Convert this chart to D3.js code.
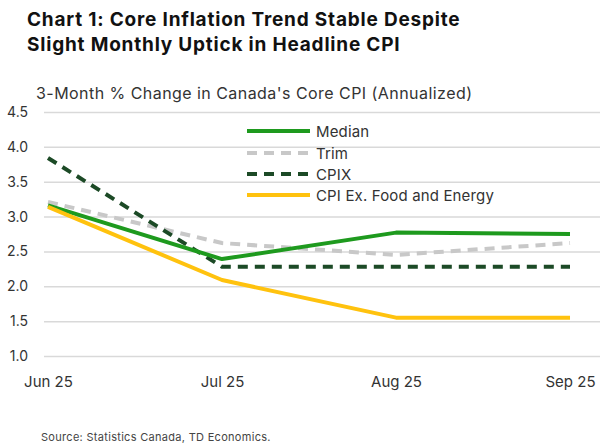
<!DOCTYPE html>
<html><head><meta charset="utf-8">
<script src="https://cdn.jsdelivr.net/npm/d3@7"></script>
<style>body{margin:0;background:#fff}svg{display:block}text{font-family:Inter,"Open Sans",sans-serif}</style>
</head><body><svg id="c" width="600" height="448"></svg>
<script>
const categories = ["Jun 25","Jul 25","Aug 25","Sep 25"];
const median = [3.16, 2.39, 2.77, 2.75];
const trim = [3.21, 2.62, 2.45, 2.62];
const cpix = [3.84, 2.28, 2.28, 2.28];
const cpiExFE = [3.14, 2.09, 1.55, 1.55];
const yTicks = [1.0,1.5,2.0,2.5,3.0,3.5,4.0,4.5];
const seriesNames = ["Median","Trim","CPIX","CPI Ex. Food and Energy"];

const svg = d3.select("#c");
const x = d3.scalePoint().domain(categories).range([48,570]);
const y = d3.scaleLinear().domain([1,4.5]).range([356,112]);

svg.append("text").attr("x",27).attr("y",26).attr("font-size",19).attr("font-weight",700).attr("letter-spacing",0.8).attr("fill","#111").text("Chart 1: Core Inflation Trend Stable Despite");
svg.append("text").attr("x",27).attr("y",51).attr("font-size",19).attr("font-weight",700).attr("letter-spacing",0.8).attr("fill","#111").text("Slight Monthly Uptick in Headline CPI");
svg.append("text").attr("x",36).attr("y",99).attr("font-size",16).attr("letter-spacing",0.45).attr("fill","#333").text("3-Month % Change in Canada's Core CPI (Annualized)");

const yAxis = d3.axisLeft(y).tickValues(yTicks).tickFormat(d3.format(".1f")).tickSize(-556).tickPadding(14);
const gy = svg.append("g").attr("transform","translate(44,0)").call(yAxis);
gy.select(".domain").remove();
gy.selectAll(".tick line").attr("stroke","#d9d9d9").attr("stroke-width",1.5);
gy.selectAll(".tick text").attr("font-size",14).attr("fill","#333").attr("x",-16);

const xAxis = d3.axisBottom(x).tickSize(0).tickPadding(0);
const gx = svg.append("g").attr("transform","translate(0,376)").call(xAxis);
gx.select(".domain").remove();
gx.selectAll(".tick text").attr("font-size",15).attr("fill","#333");

const series = [
 {name:seriesNames[0], vals:median, color:"#1e9a1e", dash:null},
 {name:seriesNames[1], vals:trim, color:"#c8c8c8", dash:"10,7"},
 {name:seriesNames[2], vals:cpix, color:"#1c4a26", dash:"10,7"},
 {name:seriesNames[3], vals:cpiExFE, color:"#ffc20e", dash:null}
];
const line = d3.line().x((d,i)=>x(categories[i])).y(d=>y(d));
const drawOrder = [1,2,0,3];
drawOrder.forEach(k=>{
  const s = series[k];
  svg.append("path").attr("d",line(s.vals)).attr("fill","none").attr("stroke",s.color)
    .attr("stroke-width",4).attr("stroke-dasharray",s.dash).attr("stroke-linejoin","round");
});

const legY = [131,153,174,195];
series.forEach((s,i)=>{
  svg.append("line").attr("x1",247).attr("x2",310).attr("y1",legY[i]).attr("y2",legY[i])
    .attr("stroke",s.color).attr("stroke-width",4).attr("stroke-dasharray",s.dash);
  svg.append("text").attr("x",316).attr("y",legY[i]+6).attr("font-size",15).attr("letter-spacing",0.15).attr("fill","#333").text(s.name);
});

svg.append("text").attr("x",41).attr("y",441).attr("font-size",11).attr("fill","#444").attr("letter-spacing",0.3).text("Source: Statistics Canada, TD Economics.");
</script></body></html>
